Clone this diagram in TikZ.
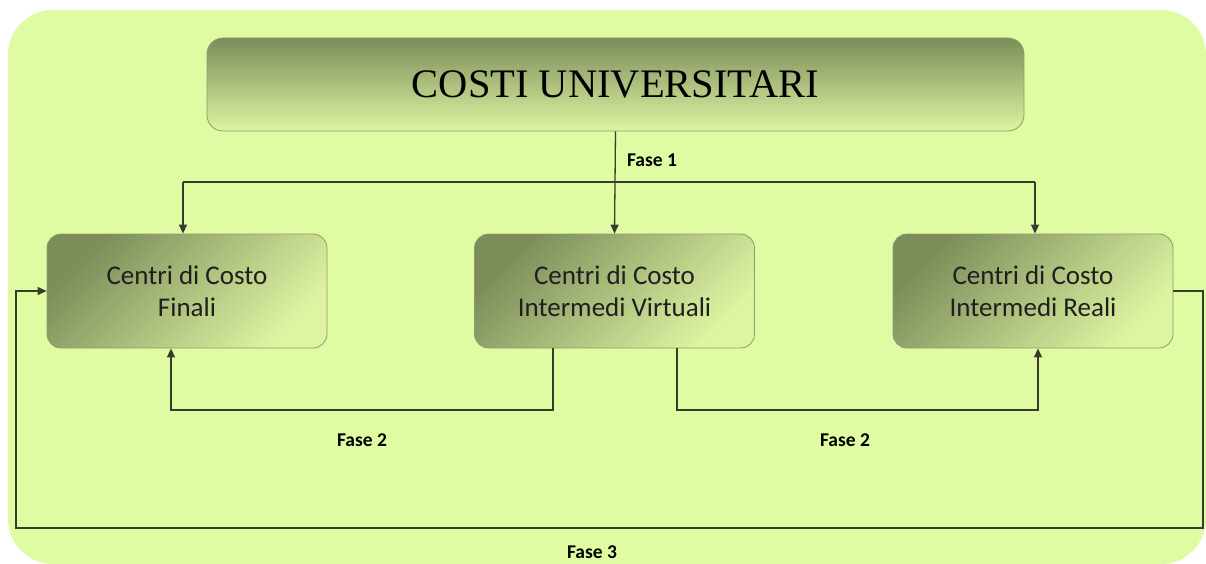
\documentclass[tikz,border=0pt]{standalone}
\usepackage{fontspec}
\setmainfont{Carlito}
\newfontfamily\titlefont{Liberation Serif}
\usetikzlibrary{arrows.meta,shadings}

\definecolor{bgc}{RGB}{223,252,163}
\definecolor{darkg}{RGB}{124,141,90}
\definecolor{lightg}{RGB}{222,244,162}
\definecolor{edgec}{RGB}{140,156,108}
\definecolor{linec}{RGB}{55,60,45}

\begin{document}
\begin{tikzpicture}[x=1pt,y=-1pt,
  box/.style={rounded corners=14pt, draw=edgec, line width=0.8pt,
    top color=darkg, bottom color=lightg, shading angle=45,
    text=black!88, align=center, inner sep=0pt,
    minimum width=280pt, minimum height=114pt,
    font=\fontsize{27}{32}\selectfont},
  titlebox/.style={rounded corners=16pt, draw=edgec, line width=0.8pt,
    top color=darkg, bottom color=lightg, inner sep=0pt,
    minimum width=817pt, minimum height=93pt,
    font=\titlefont\fontsize{40.5}{44}\selectfont},
  conn/.style={draw=linec, line width=1.3pt},
  arr/.style={conn, -{Triangle[length=9pt,width=8pt]}},
  lab/.style={font=\fontsize{19.5}{22}\selectfont\bfseries, text=black}]

\useasboundingbox (0,0) rectangle (1206,564);
\fill[white] (0,0) rectangle (1206,564);
\fill[bgc, rounded corners=45pt] (8,10) rectangle (1206,564);

\node[titlebox] (title) at (615.5,84.5) {COSTI UNIVERSITARI};

\node[box] (fin) at (187,291) {Centri di Costo\\Finali};
\node[box] (vir) at (614.5,291) {Centri di Costo\\Intermedi Virtuali};
\node[box] (rea) at (1033,291) {Centri di Costo\\Intermedi Reali};

% Fase 1
\coordinate (h1l) at (183,182);
\coordinate (h1r) at (1035,182);
\draw[conn] (h1l) -- (h1r);
\draw[arr] (title.south) -- (vir.north);
\draw[arr] (h1l) -- (h1l |- fin.north);
\draw[arr] (h1r) -- (h1r |- rea.north);
\node[lab] (l1) at (652,160) {Fase 1};

% Fase 2
\coordinate (a2) at (553,410);
\coordinate (b2) at (171,410);
\coordinate (c2) at (677,410);
\coordinate (d2) at (1038,410);
\draw[arr] (a2 |- vir.south) -- (a2) -- (b2) -- (b2 |- fin.south);
\draw[arr] (c2 |- vir.south) -- (c2) -- (d2) -- (d2 |- rea.south);
\node[lab] (l2a) at (362,440) {Fase 2};
\node[lab] (l2b) at (845,440) {Fase 2};

% Fase 3
\coordinate (e3) at (1203,528);
\coordinate (g3) at (16,528);
\draw[arr] (rea.east) -- (rea.east -| e3) -- (e3) -- (g3) -- (g3 |- fin.west) -- (fin.west);
\node[lab] (l3) at (592,552) {Fase 3};
\end{tikzpicture}
\end{document}
